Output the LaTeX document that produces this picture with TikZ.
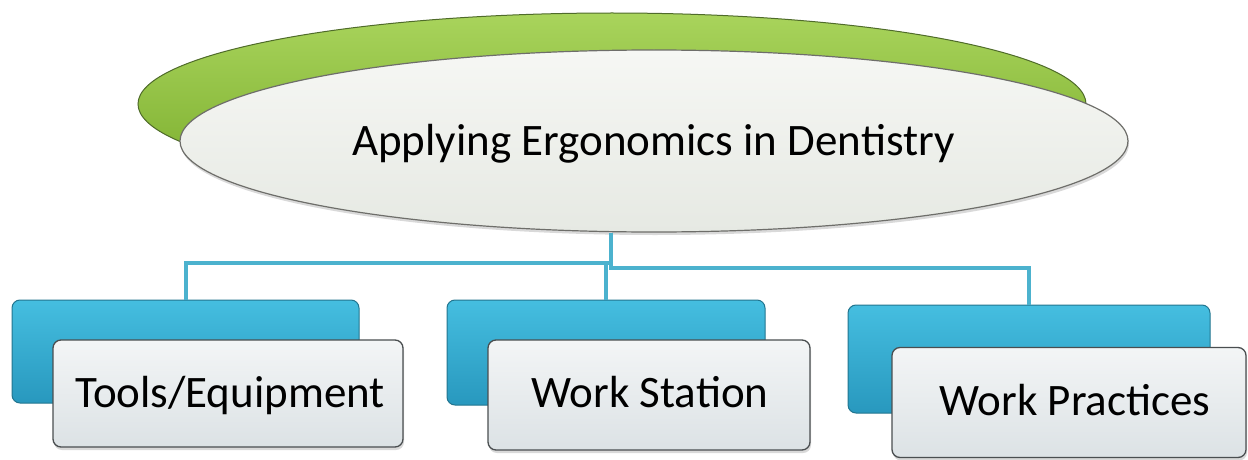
\documentclass[tikz,border=0pt]{standalone}
\usepackage{fontspec}
\setmainfont{Carlito}
\usetikzlibrary{shapes.geometric,shadows}
\definecolor{grTop}{HTML}{A9D45C}
\definecolor{grBot}{HTML}{78AB2A}
\definecolor{grEdge}{HTML}{4F6B2A}
\definecolor{elTop}{HTML}{F6F7F4}
\definecolor{elBot}{HTML}{E6E9E3}
\definecolor{elEdge}{HTML}{6E6E6A}
\definecolor{blTop}{HTML}{45BEE0}
\definecolor{blBot}{HTML}{2898BE}
\definecolor{blEdge}{HTML}{22758F}
\definecolor{wbTop}{HTML}{F3F5F6}
\definecolor{wbBot}{HTML}{DCE2E5}
\definecolor{wbEdge}{HTML}{4A4E50}
\definecolor{connCol}{HTML}{4CB2CE}
\begin{document}
\begin{tikzpicture}[x=1pt,y=-1pt,
  greenell/.style={ellipse, draw=grEdge, line width=1pt, top color=grTop, bottom color=grBot,
    minimum width=948pt, minimum height=182pt, inner sep=0pt},
  whiteell/.style={ellipse, draw=elEdge, line width=1.2pt, top color=elTop, bottom color=elBot,
    minimum width=948pt, minimum height=182pt, inner sep=0pt,
    drop shadow={shadow xshift=1pt, shadow yshift=-3pt, opacity=0.25, fill=black!60}},
  bluebox/.style={rectangle, rounded corners=8pt, draw=blEdge, line width=1pt,
    top color=blTop, bottom color=blBot, inner sep=0pt},
  whitebox/.style={rectangle, rounded corners=8pt, draw=wbEdge, line width=1.3pt,
    top color=wbTop, bottom color=wbBot, inner sep=0pt,
    drop shadow={shadow xshift=1pt, shadow yshift=-3pt, opacity=0.25, fill=black!60}},
  lbl/.style={anchor=base, inner sep=0pt, text=black, font=\fontsize{45}{54}\selectfont},
  conn/.style={draw=connCol, line width=4pt}
]
\useasboundingbox (0,0) rectangle (1248,460);

% top ellipses
\node[greenell] (g) at (612,104) {};
\node[whiteell] (e) at (654,141) {};
\node[lbl] (t) at (653.5,155) {Applying Ergonomics in Dentistry};

% blue back boxes
\node[bluebox, minimum width=347pt, minimum height=103pt] (b1) at (185.5,351.5) {};
\node[bluebox, minimum width=318pt, minimum height=105pt] (b2) at (606,352.5) {};
\node[bluebox, minimum width=362pt, minimum height=108pt] (b3) at (1029,359) {};

% connectors
\coordinate (hub) at (611,263);
\coordinate (hubR) at (611,268);
\draw[conn] (e.south -| hub) -- (hub) -| (b1.north);
\draw[conn] (hub -| b2.north) -- (b2.north);
\draw[conn] (hub) -- (hubR) -| (b3.north);

% white front boxes
\node[whitebox, minimum width=350pt, minimum height=107pt] (w1) at (228,393.5) {};
\node[whitebox, minimum width=322pt, minimum height=110pt] (w2) at (649,395) {};
\node[whitebox, minimum width=354pt, minimum height=110pt] (w3) at (1069,402.5) {};

\node[lbl] (l1) at (230,407) {Tools/Equipment};
\node[lbl] (l2) at (650,407) {Work Station};
\node[lbl] (l3) at (1075,415) {Work Practices};
\end{tikzpicture}
\end{document}
